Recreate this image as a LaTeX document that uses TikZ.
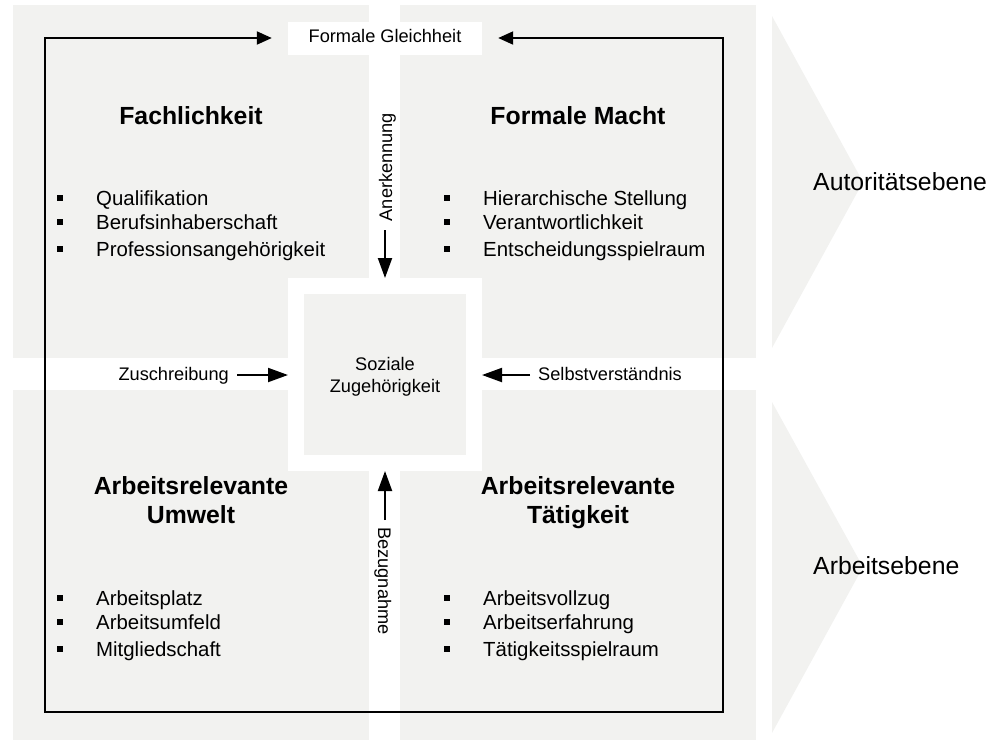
\documentclass[tikz,border=0pt]{standalone}
\usepackage{fontspec}
\setmainfont{Liberation Sans}
\usetikzlibrary{arrows.meta}
\definecolor{panel}{RGB}{242,242,240}
\begin{document}
\begin{tikzpicture}[x=1pt,y=-1pt,
  item/.style={anchor=base west,inner sep=0pt,font=\fontsize{20.4}{24}\selectfont},
  title/.style={anchor=base,inner sep=0pt,font=\fontsize{24.8}{29}\selectfont\bfseries},
  lbl/.style={inner sep=0pt,font=\fontsize{18.2}{22}\selectfont},
  level/.style={anchor=base west,inner sep=0pt,font=\fontsize{24.8}{29}\selectfont},
  frame/.style={line width=2pt,line join=miter},
  flow/.style={line width=2pt,-{Triangle[length=20pt,width=14pt]}},
]
\useasboundingbox (0,0) rectangle (1001,740);
% quadrants
\fill[panel] (13,5) rectangle (369,358);
\fill[panel] (400,5) rectangle (756,358);
\fill[panel] (13,390) rectangle (369,740);
\fill[panel] (400,390) rectangle (756,740);
% level chevrons
\fill[panel] (772,16) -- (863,182) -- (772,348) -- cycle;
\fill[panel] (772,402) -- (863,567) -- (772,733) -- cycle;
% centre
\node[fill=panel,draw=white,line width=16pt,minimum width=178pt,minimum height=177pt,
      inner sep=0pt,align=center,font=\fontsize{18.2}{22}\selectfont] (sz) at (385,374.5)
      {\rule{0pt}{17.3pt}Soziale\\Zugehörigkeit};
% formale Gleichheit
\node[lbl,fill=white,minimum width=194pt,minimum height=33pt,text height=13pt,text depth=4pt] (fg) at (385,38) {Formale Gleichheit};
\coordinate (tl) at (45,38);
\coordinate (bl) at (45,712);
\coordinate (br) at (723,712);
\coordinate (tr) at (723,38);
\draw[frame,{Triangle[length=15pt,width=13pt]}-{Triangle[length=15pt,width=13pt]}]
  ([xshift=-16pt]fg.west) -- (tl) -- (bl) -- (br) -- (tr) -- ([xshift=16pt]fg.east);
% titles
\node[title] (t1) at (191,124) {Fachlichkeit};
\node[title] (t2) at (578,124) {Formale Macht};
\node[title] (t3) at (191,494) {\begin{tabular}[t]{@{}c@{}}Arbeitsrelevante\\Umwelt\end{tabular}};
\node[title] (t4) at (578,494) {\begin{tabular}[t]{@{}c@{}}Arbeitsrelevante\\Tätigkeit\end{tabular}};
% lists
\foreach \y in {205,229,256,605,629,656}{
  \fill (57,\y-10) rectangle (63,\y-4);
  \fill (444,\y-10) rectangle (450,\y-4);
}
\node[item] (l1) at (96,205) {Qualifikation};
\node[item] (l2) at (96,229) {Berufsinhaberschaft};
\node[item] (l3) at (96,256) {Professionsangehörigkeit};
\node[item] (r1) at (483,205) {Hierarchische Stellung};
\node[item] (r2) at (483,229) {Verantwortlichkeit};
\node[item] (r3) at (483,256) {Entscheidungsspielraum};
\node[item] (l4) at (96,605) {Arbeitsplatz};
\node[item] (l5) at (96,629) {Arbeitsumfeld};
\node[item] (l6) at (96,656) {Mitgliedschaft};
\node[item] (r4) at (483,605) {Arbeitsvollzug};
\node[item] (r5) at (483,629) {Arbeitserfahrung};
\node[item] (r6) at (483,656) {Tätigkeitsspielraum};
% levels
\node[level] (ae) at (813,190) {Autoritätsebene};
\node[level] (ab) at (813,574) {Arbeitsebene};
% side labels and arrows
\node[lbl,rotate=90,anchor=base] (an) at (392,167) {Anerkennung};
\node[lbl,rotate=-90,anchor=base] (bz) at (378,581) {Bezugnahme};
\node[lbl,anchor=base east] (zu) at (229,380) {Zuschreibung};
\node[lbl,anchor=base west] (sv) at (538,380) {Selbstverständnis};
\coordinate (anT) at (385,230);
\coordinate (bzT) at (385,520);
\coordinate (zuT) at (237,375);
\coordinate (svT) at (530,375);
\draw[flow] (anT) -- (sz.north);
\draw[flow] (bzT) -- (sz.south);
\draw[flow] (zuT) -- (zuT -| sz.west);
\draw[flow] (svT) -- (svT -| sz.east);
\end{tikzpicture}
\end{document}
